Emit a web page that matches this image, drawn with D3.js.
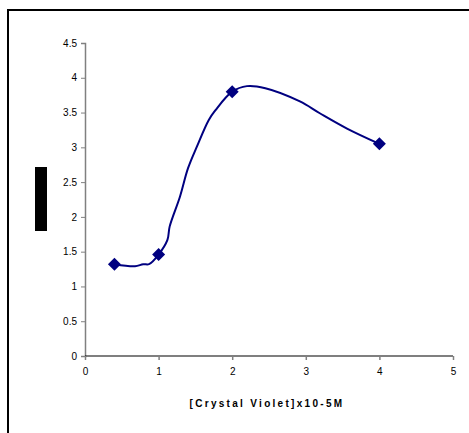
<!DOCTYPE html>
<html>
<head>
<meta charset="utf-8">
<script src="https://cdn.jsdelivr.net/npm/d3@7"></script>
<style>
  body { margin: 0; background: #fff; }
  svg text { font-family: Arial, "Liberation Sans", sans-serif; fill: #000; }
</style>
</head>
<body>
<svg id="chart" width="469" height="433"></svg>
<script>
const X_TICKS = [0, 1, 2, 3, 4, 5];
const Y_TICKS = [0, 0.5, 1, 1.5, 2, 2.5, 3, 3.5, 4, 4.5];
const X_LABEL = '[Crystal Violet]x10-5M';

// measured points (markers)
const concentration = [0.4, 1, 2, 4];
const absorbance = [1.32, 1.46, 3.8, 3.05];

// smoothed trend line as drawn
const lineX = [0.4, 0.68, 0.79, 0.87, 1, 1.12, 1.15, 1.29, 1.4, 1.52, 1.68, 1.77, 2, 2.2, 2.45, 2.92, 3.19, 3.56, 4];
const lineY = [1.32, 1.29, 1.32, 1.32, 1.46, 1.67, 1.86, 2.29, 2.7, 3.01, 3.39, 3.53, 3.8, 3.88, 3.85, 3.66, 3.49, 3.27, 3.05];

const svg = d3.select('#chart');

svg.append('rect')
  .attr('x', 8)
  .attr('y', 10)
  .attr('width', 470)
  .attr('height', 440)
  .attr('fill', 'none')
  .attr('stroke', '#000')
  .attr('stroke-width', 2);

const x = d3.scaleLinear().domain([0, 5]).range([85, 453]);
const y = d3.scaleLinear().domain([0, 4.5]).range([356, 43]);

const yAxis = svg.append('g')
  .attr('transform', 'translate(85,0)')
  .call(d3.axisLeft(y).tickValues(Y_TICKS).tickSize(4).tickPadding(4).tickFormat(d3.format('')));
yAxis.select('.domain').attr('stroke', '#808080').attr('stroke-width', 1.5);
yAxis.selectAll('.tick line').attr('stroke', '#808080');
yAxis.selectAll('text').attr('font-size', 10).attr('font-family', 'Arial, "Liberation Sans", sans-serif');

const xAxis = svg.append('g')
  .attr('transform', 'translate(0,356)')
  .call(d3.axisBottom(x).tickValues(X_TICKS).tickSize(4).tickPadding(8).tickFormat(d3.format('')));
xAxis.select('.domain').attr('stroke', '#000').attr('stroke-width', 1.2).attr('d', `M${x(0)},0H${x(5)}`);
xAxis.selectAll('.tick line').attr('stroke', '#808080').attr('stroke-width', 1.5);
xAxis.selectAll('text').attr('font-size', 10).attr('font-family', 'Arial, "Liberation Sans", sans-serif');

svg.append('text')
  .attr('x', 267)
  .attr('y', 407)
  .attr('text-anchor', 'middle')
  .attr('font-size', 10)
  .attr('font-weight', 'bold')
  .attr('letter-spacing', 2.3)
  .text(X_LABEL);

// redacted y-axis title
svg.append('rect')
  .attr('x', 35)
  .attr('y', 167)
  .attr('width', 12)
  .attr('height', 64)
  .attr('fill', '#000');

const line = d3.line()
  .x((d) => x(d[0]))
  .y((d) => y(d[1]))
  .curve(d3.curveCatmullRom.alpha(0.5));

svg.append('path')
  .datum(lineX.map((v, i) => [v, lineY[i]]))
  .attr('d', line)
  .attr('fill', 'none')
  .attr('stroke', '#000080')
  .attr('stroke-width', 2);

svg.append('g')
  .selectAll('path')
  .data(concentration.map((v, i) => [v, absorbance[i]]))
  .enter()
    .append('path')
    .attr('d', 'M0,-6.5L6.5,0L0,6.5L-6.5,0Z')
    .attr('transform', (d) => `translate(${x(d[0])},${y(d[1])})`)
    .attr('fill', '#000080');
</script>
</body>
</html>
